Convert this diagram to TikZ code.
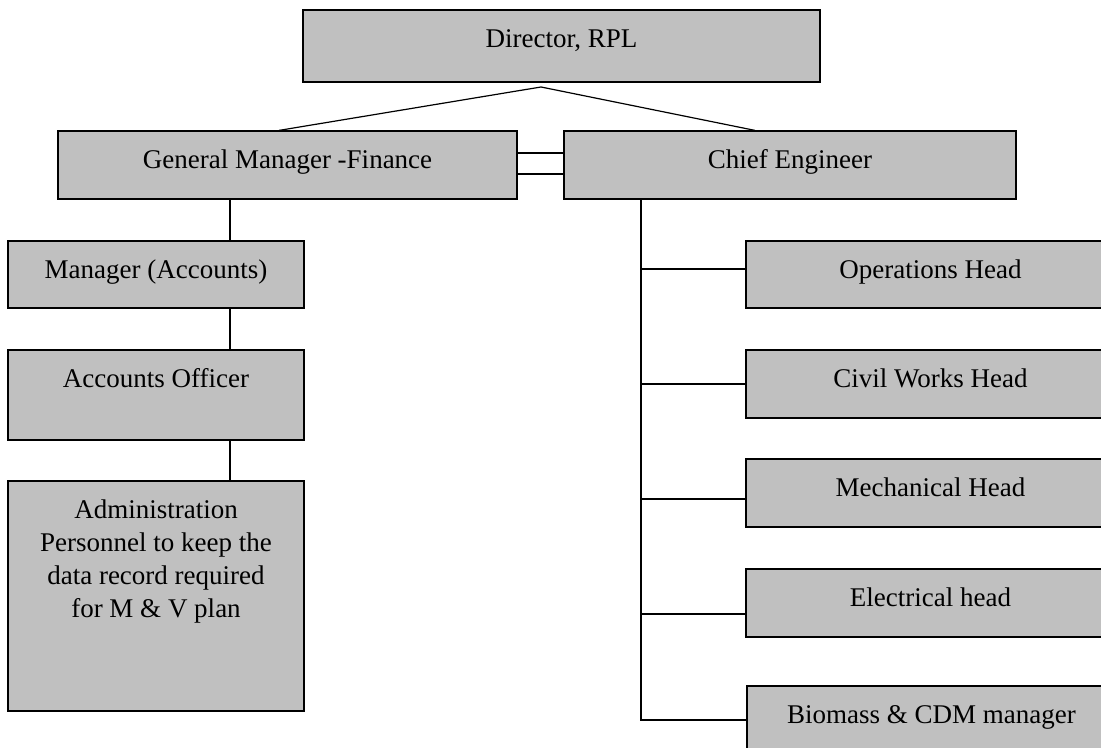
\documentclass[tikz,border=0pt]{standalone}
\usepackage{fontspec}
\setmainfont{Liberation Serif}
\definecolor{boxgray}{RGB}{192,192,192}
\tikzset{
	post/.style={draw=black, fill=boxgray, line width=0.6pt, inner sep=0pt, text height=18.75pt, font=\fontsize{13.5}{16.5}\selectfont},
	link/.style={line width=0.6pt},
}
\begin{document}
\begin{tikzpicture}[x=0.5pt,y=-0.5pt]
	\useasboundingbox (0,0) rectangle (1101,748);
	\node[post, minimum width=258.5pt, text depth=17.25pt] (dir) at (561.5,46) {Director, RPL};
	\node[post, minimum width=229.5pt, text depth=15.25pt] (gm) at (287.5,165) {General Manager -Finance};
	\node[post, minimum width=226pt, text depth=15.25pt] (ce) at (790,165) {Chief Engineer};
	\node[post, minimum width=148pt, text depth=14.75pt] (mgr) at (156,274.5) {Manager (Accounts)};
	\node[post, minimum width=148pt, text depth=26.25pt] (off) at (156,395) {Accounts Officer};
	\node[post, minimum width=148pt, text depth=96.25pt] (adm) at (156,596) {\parbox[t]{148pt}{\centering Administration\\ Personnel to keep the\\ data record required\\ for M \& V plan}};
	\node[post, minimum width=184.5pt, text depth=14.75pt] (ops) at (930.5,274.5) {Operations Head};
	\node[post, minimum width=184.5pt, text depth=15.25pt] (civ) at (930.5,384) {Civil Works Head};
	\node[post, minimum width=184.5pt, text depth=15.25pt] (mech) at (930.5,493) {Mechanical Head};
	\node[post, minimum width=184.5pt, text depth=15.25pt] (elec) at (930.5,603) {Electrical head};
	\node[post, minimum width=184.5pt, text depth=15.25pt] (bio) at (931.5,720) {Biomass \& CDM manager};
	% top links
	\coordinate (apex) at (541,87);
	\draw[link] ([xshift=-4.25pt]gm.north) -- (apex) -- ([xshift=-17.5pt]ce.north);
	\draw[link] ([yshift=6pt]gm.east) -- ([yshift=6pt]ce.west);
	\draw[link] ([yshift=-4.5pt]gm.east) -- ([yshift=-4.5pt]ce.west);
	% finance side
	\coordinate (lspine) at (230,0);
	\draw[link] (gm.south -| lspine) -- (mgr.north -| lspine);
	\draw[link] (mgr.south -| lspine) -- (off.north -| lspine);
	\draw[link] (off.south -| lspine) -- (adm.north -| lspine);
	% engineering side
	\coordinate (rspine) at (641,0);
	\coordinate (opsj) at ([yshift=2.75pt]ops.west);
	\coordinate (mechj) at ([yshift=-3pt]mech.west);
	\coordinate (elecj) at ([yshift=-5.5pt]elec.west);
	\draw[link] (ce.south -| rspine) -- (rspine |- bio.west) -- (bio.west);
	\draw[link] (rspine |- opsj) -- (opsj);
	\draw[link] (rspine |- civ.west) -- (civ.west);
	\draw[link] (rspine |- mechj) -- (mechj);
	\draw[link] (rspine |- elecj) -- (elecj);
\end{tikzpicture}
\end{document}
